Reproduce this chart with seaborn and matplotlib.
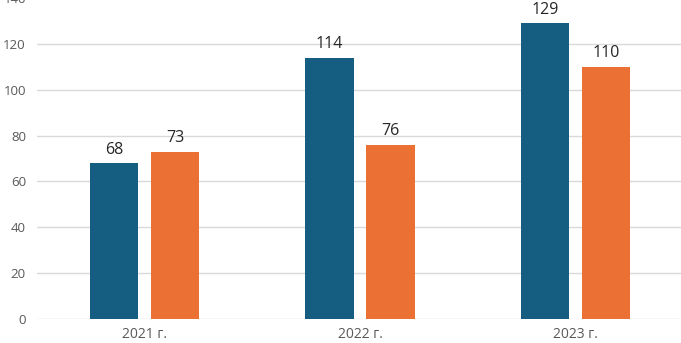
import pandas as pd
import matplotlib.pyplot as plt
import seaborn as sns

# Values
years = ['2021 г.', '2022 г.', '2023 г.']
series_a = [68, 114, 129]
series_b = [73, 76, 110]
colors = ['#155E82', '#EA7133']

df = pd.DataFrame({
    'year': years * 2,
    'value': series_a + series_b,
    'series': ['a'] * len(years) + ['b'] * len(years),
})

sns.set_style('white')
plt.rcParams['font.family'] = ['Open Sans', 'DejaVu Sans']

fig = plt.figure(figsize=(6.81, 3.43), dpi=100)
ax = fig.add_axes([37 / 681, 24 / 343, 646 / 681, 321 / 343])

sns.barplot(data=df, x='year', y='value', hue='series', palette=colors,
            width=0.567, gap=0.21, legend=False, ax=ax, saturation=1,
            linewidth=0)

for c in ax.containers:
    ax.bar_label(c, fmt='%d', padding=4, fontsize=11.5, color='#262626')

ax.set_xlim(-0.5, 2.5)
ax.set_ylim(0, 140)
ax.set_yticks(range(0, 141, 20))
ax.yaxis.grid(True, color='#D9D9D9', linewidth=1)
ax.set_axisbelow(True)
for s in ax.spines.values():
    s.set_visible(False)
ax.tick_params(axis='both', length=0, labelcolor='#595959')
ax.tick_params(axis='y', pad=8, labelsize=9.5)
ax.tick_params(axis='x', pad=6, labelsize=10)
ax.set_xlabel('')
ax.set_ylabel('')

plt.savefig('out.png', dpi=100)
plt.close()
